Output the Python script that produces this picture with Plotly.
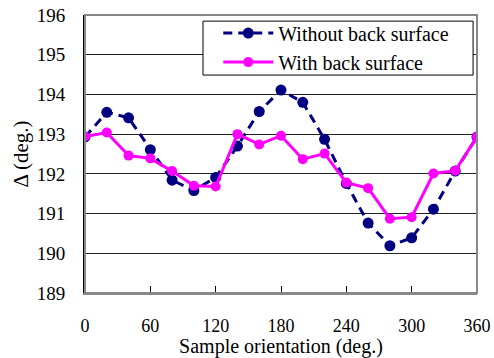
import plotly.graph_objects as go

angles = [0, 20, 40, 60, 80, 100, 120, 140, 160, 180, 200, 220, 240, 260, 280, 300, 320, 340, 360]
without_back = [192.93, 193.55, 193.41, 192.61, 191.84, 191.58, 191.91, 192.70, 193.57, 194.11,
                193.80, 192.87, 191.76, 190.76, 190.19, 190.39, 191.11, 192.07, 192.93]
with_back = [192.94, 193.04, 192.46, 192.39, 192.07, 191.70, 191.68, 193.00, 192.74, 192.96,
             192.37, 192.51, 191.78, 191.64, 190.87, 190.91, 192.01, 192.08, 192.93]
x_ticks = [0, 60, 120, 180, 240, 300, 360]
y_ticks = [189, 190, 191, 192, 193, 194, 195, 196]

font = "Liberation Serif, Times New Roman, serif"

fig = go.Figure()
fig.add_trace(go.Scatter(
    x=angles, y=without_back, mode="lines+markers", name="Without back surface",
    line=dict(color="#000080", width=3, dash="9px,6px"),
    marker=dict(color="#000080", size=11),
))
fig.add_trace(go.Scatter(
    x=angles, y=with_back, mode="lines+markers", name="With back surface",
    line=dict(color="#FF00FF", width=3),
    marker=dict(color="#FF00FF", size=10),
))

fig.update_layout(
    width=494, height=358,
    margin=dict(l=85, r=17, t=15, b=65, autoexpand=False),
    paper_bgcolor="white", plot_bgcolor="white",
    font=dict(family=font, size=19, color="black"),
    showlegend=True,
    legend=dict(
        x=0.34, y=1.005, xanchor="left", yanchor="top",
        bgcolor="rgba(0,0,0,0)", borderwidth=0,
        font=dict(family=font, size=20, color="black"),
        itemwidth=50, tracegroupgap=0,
    ),
    shapes=[
        dict(type="rect", xref="paper", yref="paper", x0=0.301, y0=0.784, x1=0.990, y1=0.978,
             line=dict(color="black", width=1), fillcolor="white", layer="above"),
        dict(type="rect", xref="paper", yref="paper", x0=0, y0=0, x1=1, y1=1,
             line=dict(color="#888888", width=2), layer="above"),
    ],
)
fig.update_xaxes(
    range=[0, 360], tickvals=x_ticks, ticktext=[str(v) for v in x_ticks],
    showgrid=False, zeroline=False, automargin=False,
    showline=True, linecolor="#888888", linewidth=2,
    ticks="inside", ticklen=7, tickwidth=1, tickcolor="black",
    ticklabelstandoff=15, tickfont=dict(family=font, size=18),
    title=dict(text="Sample orientation (deg.)", font=dict(family=font, size=20), standoff=5),
)
fig.update_yaxes(
    range=[189, 196], tickvals=y_ticks, ticktext=[str(v) for v in y_ticks],
    showgrid=True, gridcolor="#222222", gridwidth=1, zeroline=False, automargin=False,
    showline=True, linecolor="black", linewidth=2,
    ticks="", ticklabelstandoff=14,
    title=dict(text="Δ (deg.)", font=dict(family=font, size=21), standoff=2),
)

fig.write_html("out.html")
